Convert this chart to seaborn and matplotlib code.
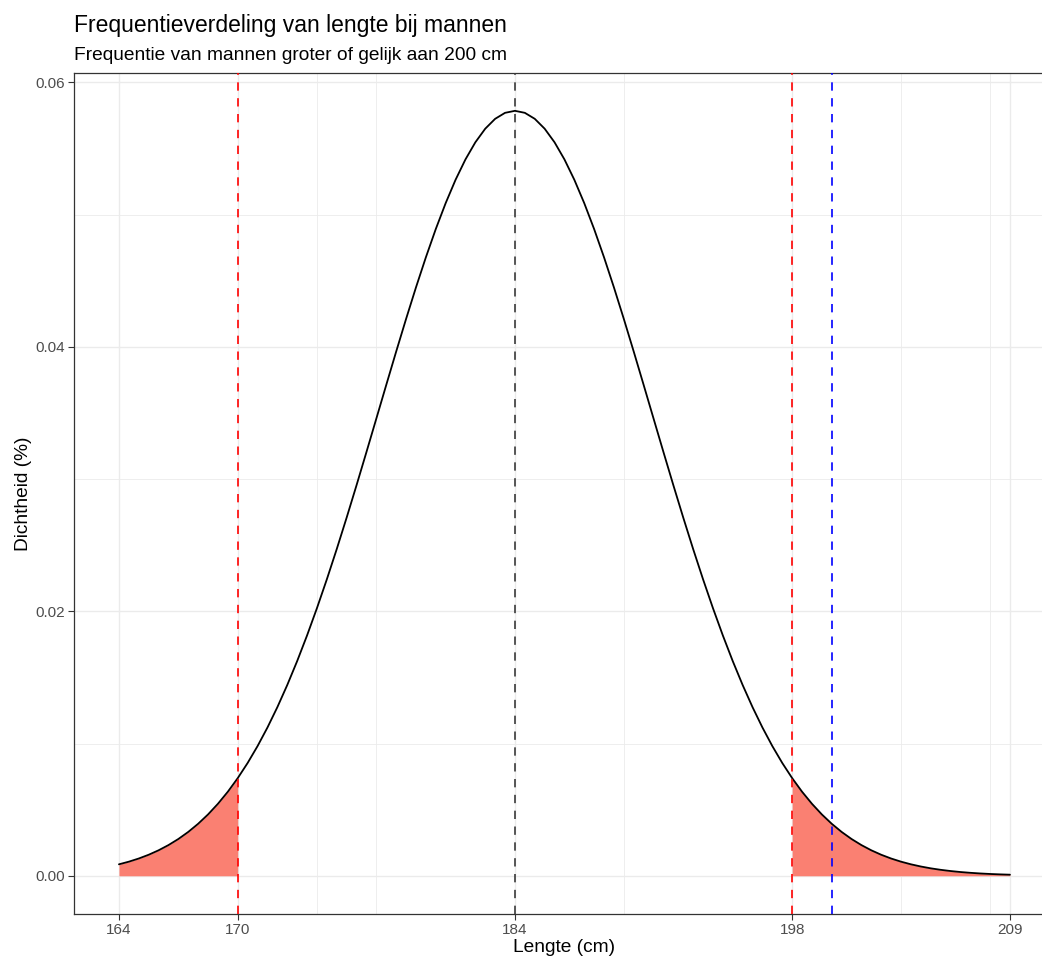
import matplotlib
matplotlib.use("Agg")
import matplotlib.pyplot as plt
import numpy as np
import pandas as pd
import seaborn as sns

# ---- data (every half centimetre) ----
lengte = [164 + 0.5 * i for i in range(91)]
dichtheid = [
    0.000867, 0.001066, 0.001305, 0.001589, 0.001925, 0.002320, 0.002780,
    0.003315, 0.003932, 0.004639, 0.005445, 0.006357, 0.007384, 0.008531,
    0.009805, 0.011209, 0.012748, 0.014423, 0.016231, 0.018171, 0.020237,
    0.022418, 0.024705, 0.027083, 0.029534, 0.032039, 0.034573, 0.037113,
    0.039631, 0.042098, 0.044484, 0.046759, 0.048895, 0.050858, 0.052624,
    0.054165, 0.055460, 0.056489, 0.057236, 0.057688, 0.057840,
    0.057688, 0.057236, 0.056489, 0.055460, 0.054165, 0.052624, 0.050858,
    0.048895, 0.046759, 0.044484, 0.042098, 0.039631, 0.037113, 0.034573,
    0.032039, 0.029534, 0.027083, 0.024705, 0.022418, 0.020237, 0.018171,
    0.016231, 0.014423, 0.012748, 0.011209, 0.009805, 0.008531, 0.007384,
    0.006357, 0.005445, 0.004639, 0.003932, 0.003315, 0.002780, 0.002320,
    0.001925, 0.001589, 0.001305, 0.001066, 0.000867, 0.000701, 0.000563,
    0.000451, 0.000359, 0.000284, 0.000224, 0.000175, 0.000136, 0.000106,
    0.0000816,
]
gemiddelde = 184
grenzen = [170, 198]
drempel = 200
x_ticks = [164, 170, 184, 198, 209]
x_minor = [174, 177, 189.5, 203.5, 208]
y_ticks = [0.00, 0.02, 0.04, 0.06]
y_minor = [0.01, 0.03, 0.05]

titel = "Frequentieverdeling van lengte bij mannen"
ondertitel = "Frequentie van mannen groter of gelijk aan 200 cm"
x_label = "Lengte (cm)"
y_label = "Dichtheid (%)"

sns.set_theme(style="white")
plt.rcParams["font.family"] = ["Liberation Sans", "DejaVu Sans"]

df = pd.DataFrame({"lengte": lengte, "dichtheid": dichtheid})

fig = plt.figure(figsize=(10.42, 9.57), dpi=100)
ax = fig.add_axes([74.4 / 1042, 43 / 957, 980.1 / 1042, 841 / 957])

links = df[df["lengte"] <= grenzen[0]]
rechts = df[df["lengte"] >= grenzen[1]]
ax.fill_between(links["lengte"], 0, links["dichtheid"], color="#FA8072", lw=0, zorder=2)
ax.fill_between(rechts["lengte"], 0, rechts["dichtheid"], color="#FA8072", lw=0, zorder=2)

sns.lineplot(data=df, x="lengte", y="dichtheid", color="black", lw=1.3, ax=ax, zorder=3)

dash = (0, (5, 4.5))
ax.axvline(gemiddelde, color="#3a3a3a", ls=dash, lw=1.2, zorder=4)
for g in grenzen:
    ax.axvline(g, color="red", ls=dash, lw=1.2, zorder=4)
ax.axvline(drempel, color="blue", ls=dash, lw=1.2, zorder=4)

ax.set_xlim(161.75, 211.25)
ax.set_ylim(-0.00289, 0.0607)
ax.set_xticks(x_ticks)
ax.set_xticklabels([str(v) for v in x_ticks])
ax.set_xticks(x_minor, minor=True)
ax.set_yticks(y_ticks)
ax.set_yticklabels([f"{v:.2f}" for v in y_ticks])
ax.set_yticks(y_minor, minor=True)

ax.grid(True, which="major", color="#EBEBEB", lw=1.0, zorder=0)
ax.grid(True, which="minor", color="#EBEBEB", lw=0.6, zorder=0)
ax.set_axisbelow(True)

ax.tick_params(which="major", bottom=True, left=True, length=4, width=0.8,
               color="#333333", labelcolor="#4D4D4D", labelsize=11, pad=2.5)
ax.tick_params(which="minor", bottom=False, left=False, length=0)

for s in ax.spines.values():
    s.set_color("#333333")
    s.set_linewidth(0.9)
    s.set_visible(True)

ax.set_xlabel(x_label, fontsize=13.8, color="black", labelpad=1.5)
ax.set_ylabel(y_label, fontsize=13.8, color="black", labelpad=3)

fig.text(74 / 1042, 1 - 32 / 957, titel, fontsize=16.5, color="black", va="baseline", ha="left")
fig.text(74 / 1042, 1 - 60 / 957, ondertitel, fontsize=13.8, color="black", va="baseline", ha="left")

fig.savefig("out.png", dpi=100)
